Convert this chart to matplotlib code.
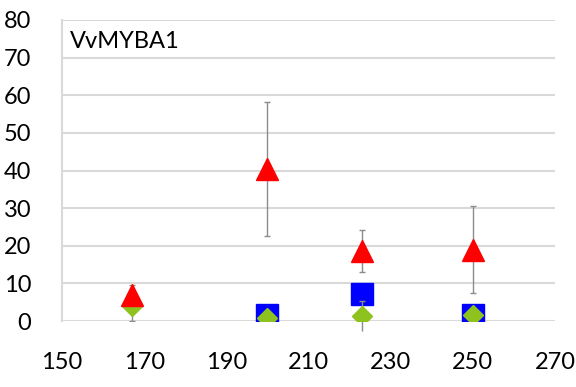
import numpy as np
import matplotlib.pyplot as plt

plt.rcParams['font.family'] = ['Lato', 'DejaVu Sans']

# Data
x_days = [167, 200, 223, 250]
red_vals = [7, 40.5, 18.7, 19]
red_err = [2.5, 17.8, 5.6, 11.5]
blue_vals = [np.nan, 1.6, 7.3, 1.6]
blue_err = [0, 0, 0, 0]
green_vals = [4, 0.8, 1.3, 1.5]
green_err = [4, 0, 4, 0]

x_ticks = [150, 170, 190, 210, 230, 250, 270]
y_ticks = [0, 10, 20, 30, 40, 50, 60, 70, 80]
label = "VvMYBA1"

fig = plt.figure(figsize=(5.76, 3.87), dpi=100)
ax = fig.add_axes([62 / 576, 1 - 321 / 387, 493 / 576, 301 / 387])

err_kw = dict(ecolor='#8c8c8c', elinewidth=1, capsize=2, capthick=1, linestyle='none')

# blue squares first, then green diamonds, red triangles on top
ax.errorbar(x_days, blue_vals, yerr=blue_err, fmt='s', ms=16, mfc='#0000FF',
            mec='#0000FF', zorder=3, **err_kw)
green = ax.errorbar(x_days, green_vals, yerr=green_err, fmt='D', ms=10, mfc='#8DC21F',
                    mec='#8DC21F', zorder=4, **err_kw)
for artist in green.lines[2]:
    artist.set_clip_on(False)
ax.errorbar(x_days, red_vals, yerr=red_err, fmt='^', ms=16, mfc='#FF0000',
            mec='#FF0000', zorder=5, **err_kw)

ax.set_xlim(150, 270)
ax.set_ylim(0, 80)
ax.set_xticks(x_ticks)
ax.set_yticks(y_ticks)
ax.tick_params(axis='both', length=0, labelsize=17, colors='black')
ax.tick_params(axis='y', pad=22)
ax.tick_params(axis='x', pad=22)

ax.grid(axis='y', color='#d9d9d9', linewidth=1.5, zorder=0)
ax.set_axisbelow(True)
for side in ['right', 'top', 'bottom']:
    ax.spines[side].set_visible(False)
ax.spines['left'].set_color('#d9d9d9')
ax.spines['left'].set_linewidth(1.5)

ax.text(0.016, 0.93, label, transform=ax.transAxes, fontsize=17,
        va='center', ha='left')

fig.savefig('out.png', dpi=100)
